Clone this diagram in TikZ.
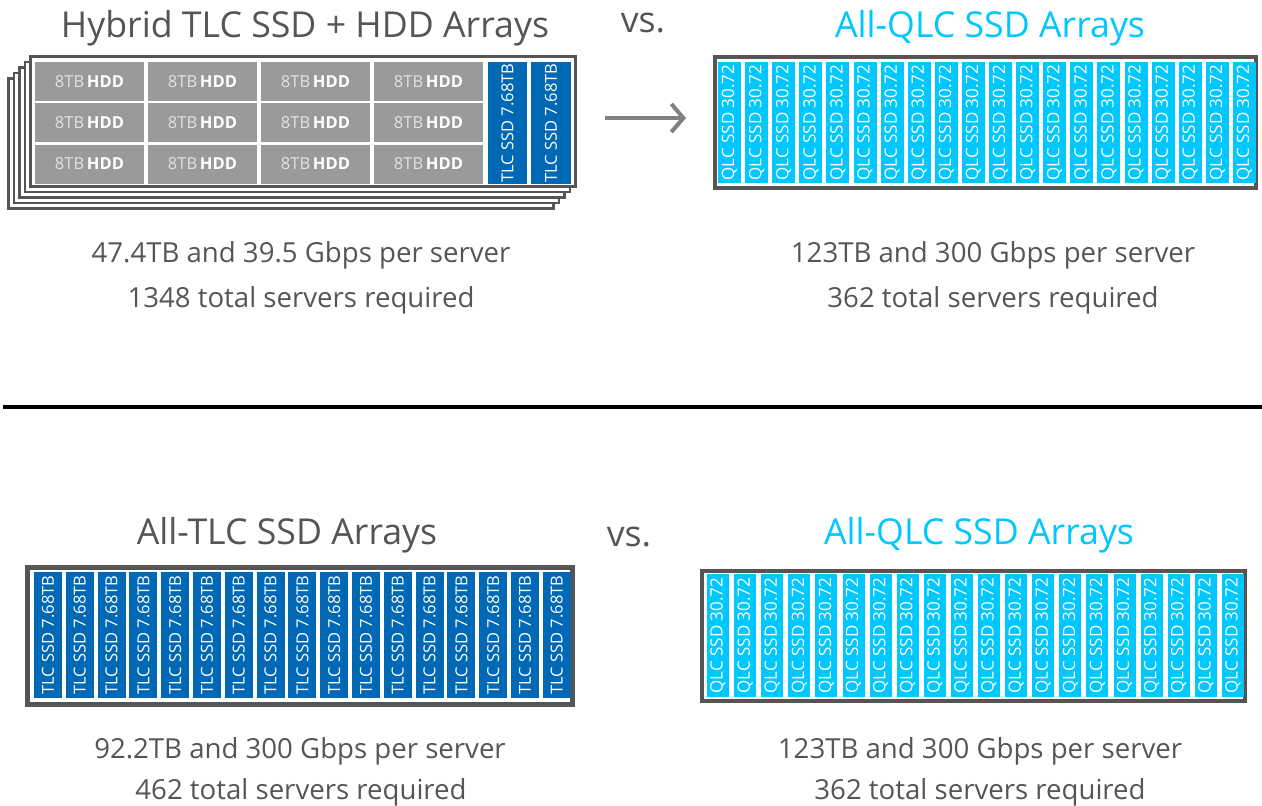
\documentclass[tikz,border=0pt]{standalone}
\usepackage{fontspec}
\setmainfont{Open Sans}
\usetikzlibrary{arrows.meta}
\definecolor{tgray}{HTML}{555555}
\definecolor{cyanq}{HTML}{00C7FD}
\definecolor{bluet}{HTML}{0068B5}
\definecolor{hddg}{HTML}{9A9A9A}
\definecolor{hddl}{HTML}{E2E2E2}
\definecolor{frameg}{HTML}{555555}
\definecolor{arrowg}{HTML}{808080}
\begin{document}
\begin{tikzpicture}[x=1pt,y=-1pt,
  title/.style={font=\fontsize{35.7}{40}\selectfont, text=tgray, inner sep=0, anchor=base},
  body/.style={font=\fontsize{27.6}{32}\selectfont, text=tgray, inner sep=0, anchor=base},
  frame/.style={draw=frameg, fill=white, line width=3pt, inner sep=0},
  hdd/.style={fill=hddg, minimum width=109pt, minimum height=39pt, inner sep=0, text=white, font=\fontsize{16.5}{18}\selectfont},
  tlc/.style={fill=bluet, rotate=90, inner sep=0, text=white, font=\fontsize{16.5}{18}\selectfont},
  qlc/.style={fill=cyanq, rotate=90, inner sep=0, text=white, font=\fontsize{17}{18}\selectfont},
  arrowst/.style={draw=arrowg, line width=4pt, -{Straight Barb[length=12pt,width=28pt]}},
  divider/.style={draw=black, line width=4pt}
]
\useasboundingbox (0,0) rectangle (1262,806);

% ---------- titles ----------
\node[title] (h1) at (305,37) {Hybrid TLC SSD + HDD Arrays};
\node[title] (vs1) at (643,32) {vs.};
\node[title, text=cyanq] (h2) at (990,37) {All-QLC SSD Arrays};
\node[title] (h3) at (287,544.5) {All-TLC SSD Arrays};
\node[title] (vs2) at (629,546) {vs.};
\node[title, text=cyanq] (h4) at (979,544.5) {All-QLC SSD Arrays};

% ---------- top-left stacked hybrid array ----------
\foreach \k in {4,3,2,1}
  \node[frame, line width=2.5pt, minimum width=545pt, minimum height=130pt] (fb\k) at ({303-5.5*\k},{121.5+5.5*\k}) {};
\node[frame, minimum width=545pt, minimum height=130pt] (f1) at (303,121.5) {};
\foreach \c in {0,...,3}
  \foreach \r/\ry in {0/81.5, 1/122.5, 2/164} {
    \node[hdd] (hdd-\c-\r) at ({35+113*\c+54.5},\ry) {{\color{hddl}8TB}\,\textbf{HDD}};
  }
\node[tlc, minimum width=122pt, minimum height=39pt] (t1a) at (507.5,123) {TLC SSD 7.68TB};
\node[tlc, minimum width=122pt, minimum height=40pt] (t1b) at (551,123) {TLC SSD 7.68TB};

% ---------- arrow ----------
\coordinate (a1) at (605,118);
\coordinate (a2) at (686,118);
\draw[arrowst] (a1) -- (a2);

% ---------- top-right QLC array ----------
\node[frame, line width=3.5pt, minimum width=541pt, minimum height=131pt] (f2) at (985.5,122.5) {};
\foreach \i in {0,...,19}
  \node[qlc, minimum width=121pt, minimum height=23pt] (q1-\i) at ({718+27.1*\i+11.5},122.5) {QLC SSD 30.72};

% ---------- top texts ----------
\node[body] (s1a) at (301,262) {47.4TB and 39.5 Gbps per server};
\node[body] (s1b) at (301,307) {1348 total servers required};
\node[body] (s2a) at (993,262) {123TB and 300 Gbps per server};
\node[body] (s2b) at (993,307) {362 total servers required};

% ---------- divider ----------
\coordinate (d1) at (3,407);
\coordinate (d2) at (1262,407);
\draw[divider] (d1) -- (d2);

% ---------- bottom-left TLC array ----------
\node[frame, line width=5pt, minimum width=545pt, minimum height=137pt] (f3) at (300,636) {};
\foreach \i in {0,...,16}
  \node[tlc, minimum width=126pt, minimum height=28pt] (t3-\i) at ({34+31.8*\i+14},635) {TLC SSD 7.68TB};

% ---------- bottom-right QLC array ----------
\node[frame, line width=4pt, minimum width=543pt, minimum height=130pt] (f4) at (973.5,636) {};
\foreach \i in {0,...,19}
  \node[qlc, minimum width=123pt, minimum height=22pt] (q4-\i) at ({707+27.1*\i+11},635.5) {QLC SSD 30.72};

% ---------- bottom texts ----------
\node[body] (s3a) at (300,758) {92.2TB and 300 Gbps per server};
\node[body] (s3b) at (301,799) {462 total servers required};
\node[body] (s4a) at (980,758) {123TB and 300 Gbps per server};
\node[body] (s4b) at (980,799) {362 total servers required};
\end{tikzpicture}
\end{document}
